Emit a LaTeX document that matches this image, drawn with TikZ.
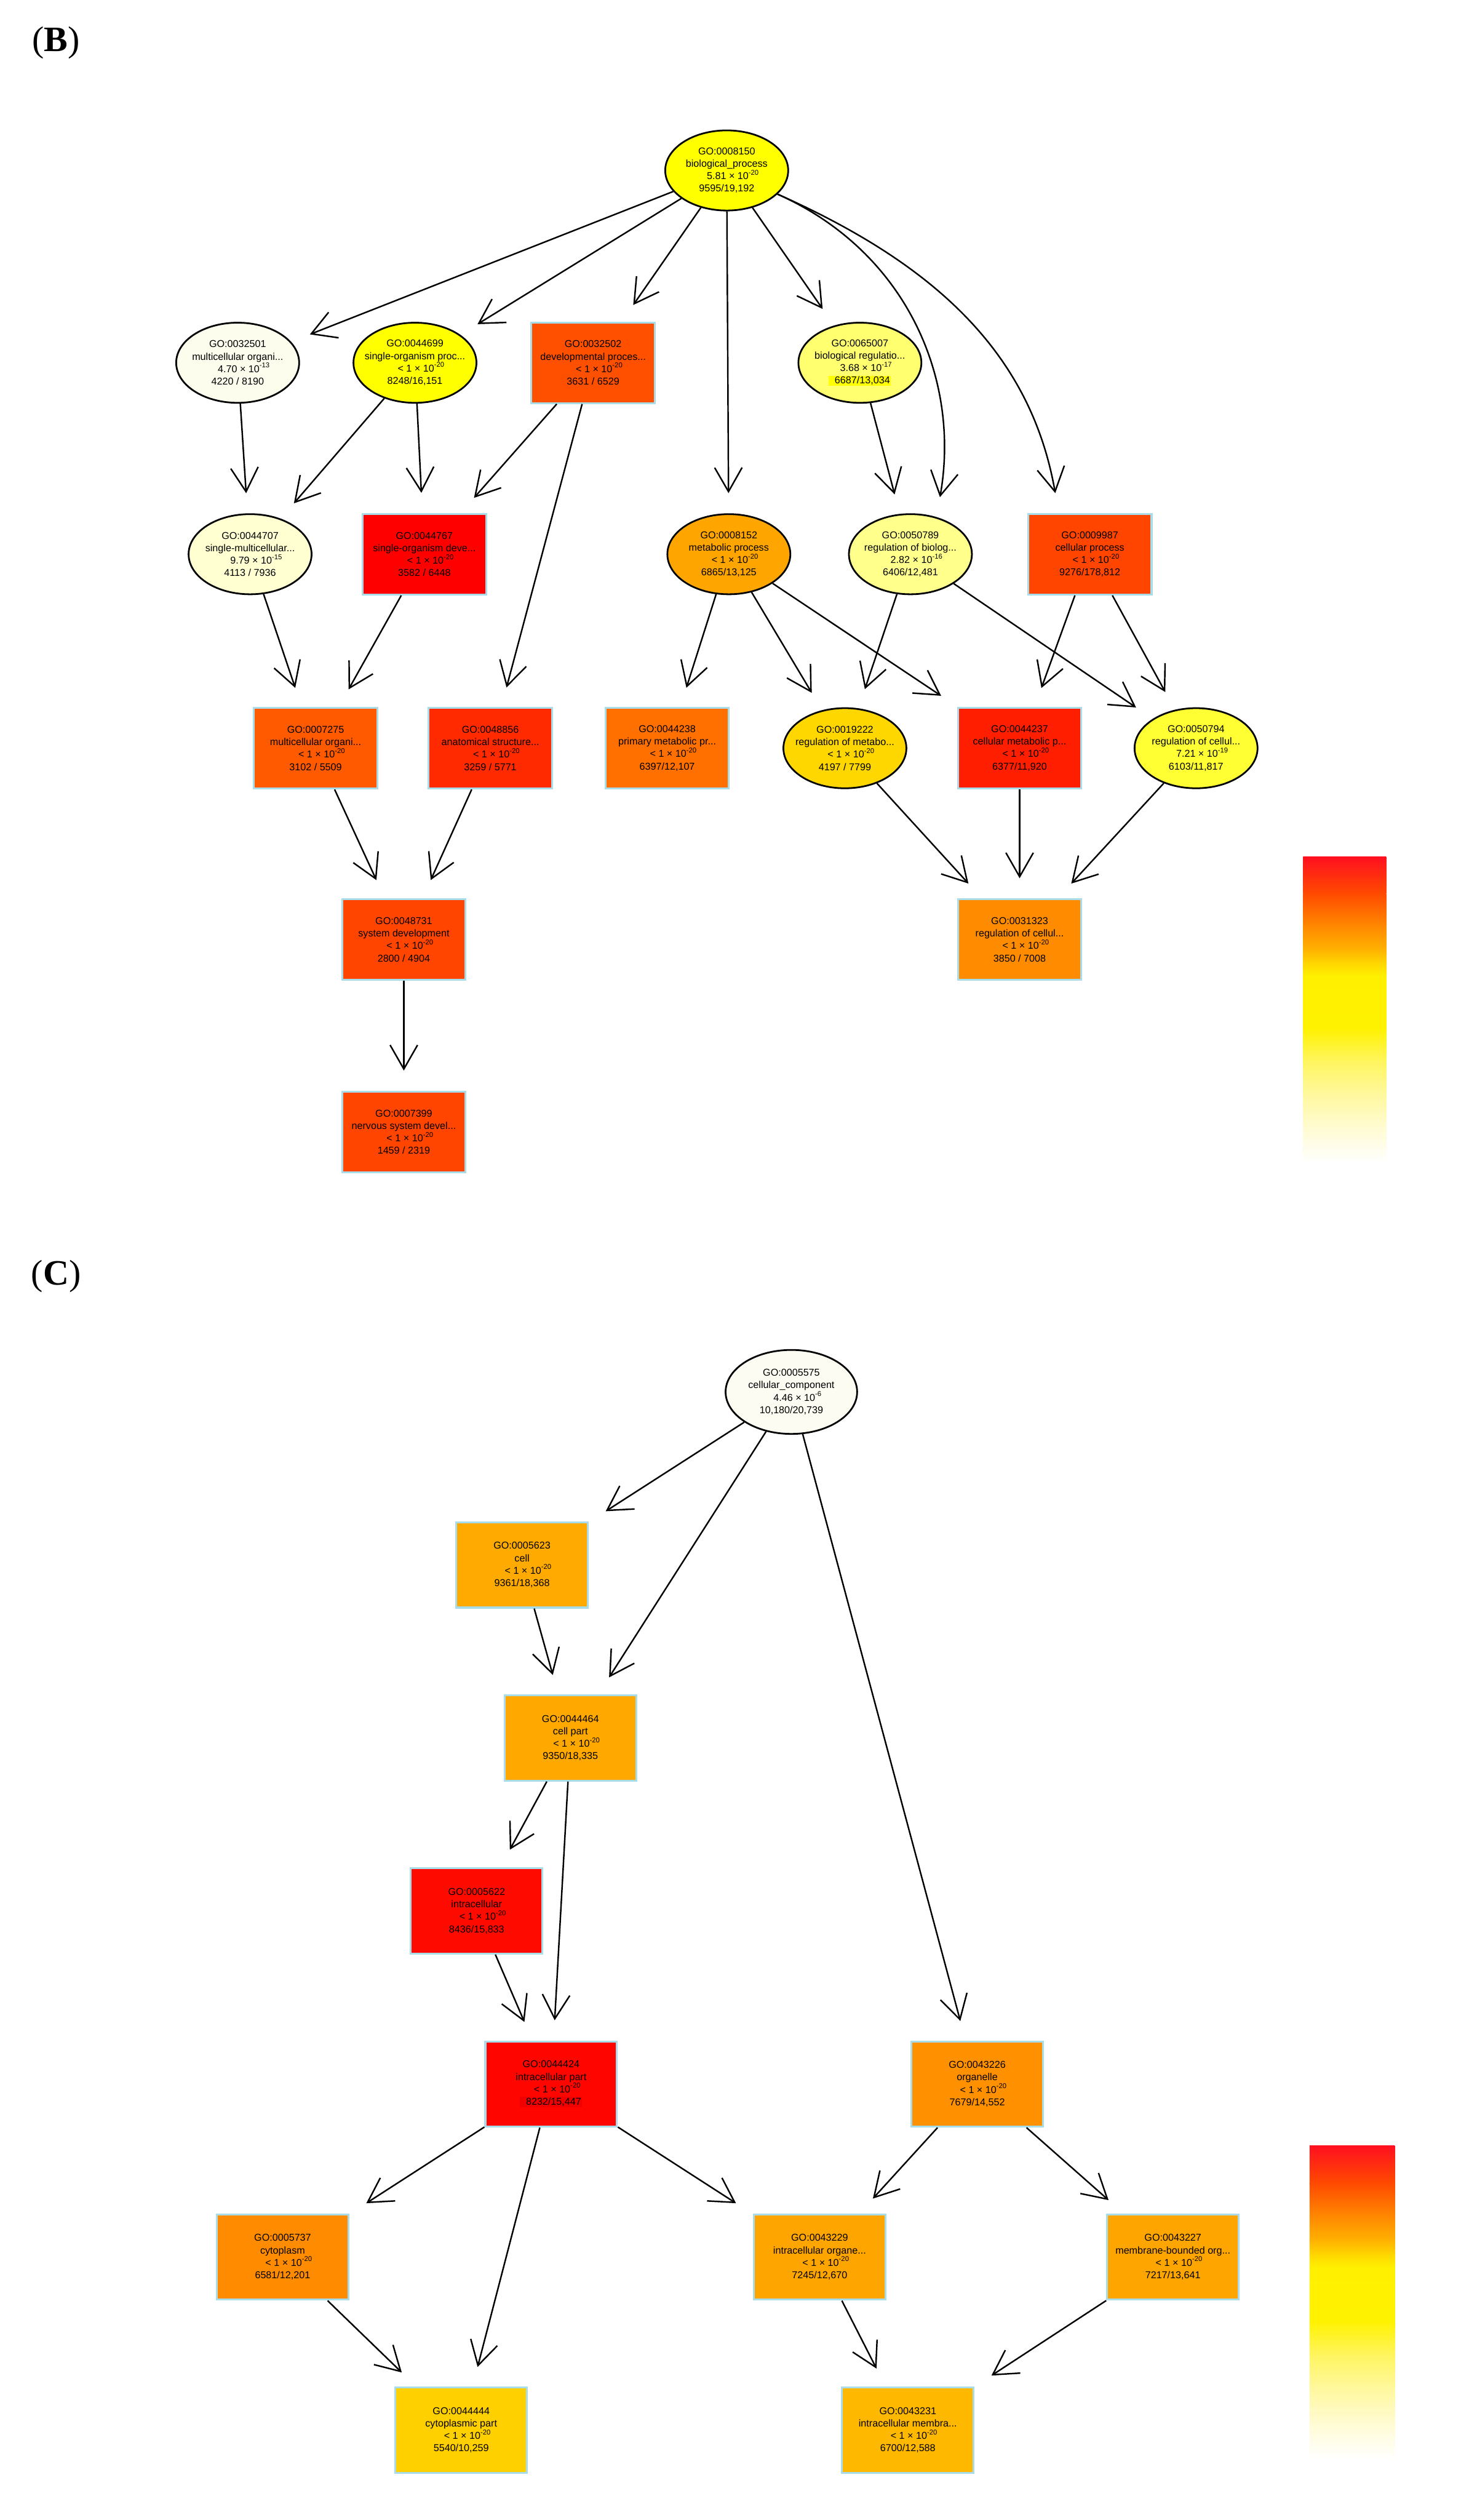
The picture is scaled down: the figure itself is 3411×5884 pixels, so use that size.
\documentclass[tikz,border=0pt]{standalone}
\usepackage{fontspec}
\setmainfont{Liberation Sans}
\newfontfamily\lblfont{Liberation Serif}
\usetikzlibrary{shapes.geometric,arrows.meta}

\definecolor{rectborder}{HTML}{A8DCE8}
\definecolor{cA}{HTML}{FFFF00}
\definecolor{cIvory}{HTML}{FDFDEE}
\definecolor{cIvoryC}{HTML}{FCFCF2}
\definecolor{c32502}{HTML}{FF5000}
\definecolor{c65007}{HTML}{FFFF70}
\definecolor{c44707}{HTML}{FFFFD2}
\definecolor{c44767}{HTML}{FF0000}
\definecolor{c8152}{HTML}{FFA500}
\definecolor{c50789}{HTML}{FFFF8C}
\definecolor{c9987}{HTML}{FF4500}
\definecolor{c7275}{HTML}{FF5A00}
\definecolor{c48856}{HTML}{FF2A00}
\definecolor{c44238}{HTML}{FF7000}
\definecolor{c19222}{HTML}{FFD700}
\definecolor{c44237}{HTML}{FF1E00}
\definecolor{c50794}{HTML}{FFFF33}
\definecolor{c48731}{HTML}{FF4500}
\definecolor{c31323}{HTML}{FF8C00}
\definecolor{c7399}{HTML}{FF4500}
\definecolor{c5623}{HTML}{FFAA00}
\definecolor{c44464}{HTML}{FFA800}
\definecolor{c5622}{HTML}{FF0A00}
\definecolor{c44424}{HTML}{FF0500}
\definecolor{c44424hl}{HTML}{F20000}
\definecolor{c43226}{HTML}{FF9000}
\definecolor{c5737}{HTML}{FF8C00}
\definecolor{c43229}{HTML}{FFA500}
\definecolor{c43227}{HTML}{FFA500}
\definecolor{c44444}{HTML}{FFD000}
\definecolor{c43231}{HTML}{FFB800}
% colour bar stops
\definecolor{g0}{HTML}{FF1020}
\definecolor{g1}{HTML}{FF4A00}
\definecolor{g2}{HTML}{FF8800}
\definecolor{g3}{HTML}{FFB000}
\definecolor{g4}{HTML}{FFD800}
\definecolor{g5}{HTML}{FFF000}
\definecolor{g6}{HTML}{FFF200}
\definecolor{g7}{HTML}{FFF560}
\definecolor{g8}{HTML}{FFF8A0}
\definecolor{g9}{HTML}{FFFBD0}
\definecolor{g10}{HTML}{FFFFFF}

\newcommand{\pv}[2]{\hspace*{0.3cm}#1 × 10\textsuperscript{#2}}
\newcommand{\gonode}[8]{\node[#1, fill=#4, label={[txt]center:{#5\\#6\\#7\\#8}}] (#2) at (#3) {};}
\newcommand{\hlbox}[2]{{\setlength{\fboxsep}{0.6pt}\colorbox{#1}{\hspace*{0.5em}#2}}}
\newcommand{\gradbar}[4]{%
  \foreach \fa/\fb/\ca/\cb in {0/0.12/g0/g1, 0.12/0.225/g1/g2, 0.225/0.30/g2/g3, 0.30/0.35/g3/g4, 0.35/0.39/g4/g5, 0.39/0.56/g5/g6, 0.56/0.67/g6/g7, 0.67/0.78/g7/g8, 0.78/0.88/g8/g9, 0.88/1/g9/g10}{%
    \shade[top color=\ca, bottom color=\cb] (#1,{#2+\fa*(#4-#2)-0.5}) rectangle (#3,{#2+\fb*(#4-#2)+0.5});
  }}

\begin{document}
\begin{tikzpicture}[x=0.01cm,y=-0.01cm,
  txt/.style={font=\fontsize{6.6pt}{8.25pt}\selectfont, align=center, inner sep=0pt, text=black},
  ellb/.style={ellipse, draw=black, line width=0.04cm, minimum width=2.87cm, minimum height=1.87cm, inner sep=0pt},
  rectb/.style={rectangle, draw=rectborder, line width=0.045cm, minimum width=2.88cm, minimum height=1.88cm, inner sep=0pt},
  ellc/.style={ellb, minimum width=3.07cm, minimum height=1.96cm},
  rectc/.style={rectb, minimum width=3.07cm, minimum height=1.99cm},
  arr/.style={line width=0.035cm, -{Straight Barb[length=0.56cm,width=0.64cm]}, shorten >=0.47cm},
  lbl/.style={font=\lblfont\fontsize{23.7pt}{28pt}\selectfont, inner sep=0pt}
]
\useasboundingbox (0,0) rectangle (3411,5884);
\fill[white] (0,0) rectangle (3411,5884);

% ---------------- Panel B ----------------
\node[lbl] (lblB) at (131,100) {(\textbf{B})};

\gonode{ellb}{n8150}{1697,398}{cA}{GO:0008150}{biological\_process}{\pv{5.81}{-20}}{9595/19,192}
\gonode{ellb}{n32501}{555,847}{cIvory}{GO:0032501}{multicellular organi...}{\pv{4.70}{-13}}{4220 / 8190}
\gonode{ellb}{n44699}{969,847}{cA}{GO:0044699}{single-organism proc...}{\pv{< 1}{-20}}{8248/16,151}
\gonode{rectb}{n32502}{1385,847}{c32502}{GO:0032502}{developmental proces...}{\pv{< 1}{-20}}{3631 / 6529}
\gonode{ellb}{n65007}{2008,847}{c65007}{GO:0065007}{biological regulatio...}{\pv{3.68}{-17}}{\hlbox{cA}{6687/13,034}}

\gonode{ellb}{n44707}{584,1294}{c44707}{GO:0044707}{single-multicellular...}{\pv{9.79}{-15}}{4113 / 7936}
\gonode{rectb}{n44767}{991,1294}{c44767}{GO:0044767}{single-organism deve...}{\pv{< 1}{-20}}{3582 / 6448}
\gonode{ellb}{n8152}{1702,1294}{c8152}{GO:0008152}{metabolic process}{\pv{< 1}{-20}}{6865/13,125}
\gonode{ellb}{n50789}{2126,1294}{c50789}{GO:0050789}{regulation of biolog...}{\pv{2.82}{-16}}{6406/12,481}
\gonode{rectb}{n9987}{2545,1294}{c9987}{GO:0009987}{cellular process}{\pv{< 1}{-20}}{9276/178,812}

\gonode{rectb}{n7275}{737,1747}{c7275}{GO:0007275}{multicellular organi...}{\pv{< 1}{-20}}{3102 / 5509}
\gonode{rectb}{n48856}{1145,1747}{c48856}{GO:0048856}{anatomical structure...}{\pv{< 1}{-20}}{3259 / 5771}
\gonode{rectb}{n44238}{1558,1747}{c44238}{GO:0044238}{primary metabolic pr...}{\pv{< 1}{-20}}{6397/12,107}
\gonode{ellb}{n19222}{1973,1747}{c19222}{GO:0019222}{regulation of metabo...}{\pv{< 1}{-20}}{4197 / 7799}
\gonode{rectb}{n44237}{2381,1747}{c44237}{GO:0044237}{cellular metabolic p...}{\pv{< 1}{-20}}{6377/11,920}
\gonode{ellb}{n50794}{2793,1747}{c50794}{GO:0050794}{regulation of cellul...}{\pv{7.21}{-19}}{6103/11,817}

\gonode{rectb}{n48731}{943,2194}{c48731}{GO:0048731}{system development}{\pv{< 1}{-20}}{2800 / 4904}
\gonode{rectb}{n31323}{2381,2194}{c31323}{GO:0031323}{regulation of cellul...}{\pv{< 1}{-20}}{3850 / 7008}
\gonode{rectb}{n7399}{943,2643}{c7399}{GO:0007399}{nervous system devel...}{\pv{< 1}{-20}}{1459 / 2319}

\draw[arr] (n8150) -- (n32501);
\draw[arr] (n8150) -- (n44699);
\draw[arr] (n8150) -- (n32502);
\draw[arr] (n8150) -- (n8152);
\draw[arr] (n8150) -- (n65007);
\draw[arr] (n8150.-25) to[out=-24,in=80] (n50789.55);
\draw[arr] (n8150.-25) to[out=-24,in=100] (n9987.127);
\draw[arr] (n32501) -- (n44707);
\draw[arr] (n44699) -- (n44707);
\draw[arr] (n44699) -- (n44767);
\draw[arr] (n32502) -- (n44767);
\draw[arr] (n32502) -- (n48856);
\draw[arr] (n65007) -- (n50789);
\draw[arr] (n44707) -- (n7275);
\draw[arr] (n44767) -- (n7275);
\draw[arr] (n8152) -- (n44238);
\draw[arr] (n8152) -- (n19222);
\draw[arr] (n8152) -- (n44237);
\draw[arr] (n50789) -- (n19222);
\draw[arr] (n50789) -- (n50794);
\draw[arr] (n9987) -- (n44237);
\draw[arr] (n9987) -- (n50794);
\draw[arr] (n7275) -- (n48731);
\draw[arr] (n48856) -- (n48731);
\draw[arr] (n19222) -- (n31323);
\draw[arr] (n44237) -- (n31323);
\draw[arr] (n50794) -- (n31323);
\draw[arr] (n48731) -- (n7399);

\gradbar{3043}{2001}{3237}{2715}

% ---------------- Panel C ----------------
\node[lbl] (lblC) at (131,2980) {(\textbf{C})};

\gonode{ellc}{n5575}{1848,3250}{cIvoryC}{GO:0005575}{cellular\_component}{\pv{4.46}{-6}}{10,180/20,739}
\gonode{rectc}{n5623}{1219,3654}{c5623}{GO:0005623}{cell}{\pv{< 1}{-20}}{9361/18,368}
\gonode{rectc}{n44464}{1332,4058}{c44464}{GO:0044464}{cell part}{\pv{< 1}{-20}}{9350/18,335}
\gonode{rectc}{n5622}{1113,4462}{c5622}{GO:0005622}{intracellular}{\pv{< 1}{-20}}{8436/15,833}
\gonode{rectc}{n44424}{1287,4866}{c44424}{GO:0044424}{intracellular part}{\pv{< 1}{-20}}{\hlbox{c44424hl}{8232/15,447}}
\gonode{rectc}{n43226}{2282,4866}{c43226}{GO:0043226}{organelle}{\pv{< 1}{-20}}{7679/14,552}
\gonode{rectc}{n5737}{660,5270}{c5737}{GO:0005737}{cytoplasm}{\pv{< 1}{-20}}{6581/12,201}
\gonode{rectc}{n43229}{1914,5270}{c43229}{GO:0043229}{intracellular organe...}{\pv{< 1}{-20}}{7245/12,670}
\gonode{rectc}{n43227}{2739,5270}{c43227}{GO:0043227}{membrane-bounded org...}{\pv{< 1}{-20}}{7217/13,641}
\gonode{rectc}{n44444}{1077,5674}{c44444}{GO:0044444}{cytoplasmic part}{\pv{< 1}{-20}}{5540/10,259}
\gonode{rectc}{n43231}{2120,5674}{c43231}{GO:0043231}{intracellular membra...}{\pv{< 1}{-20}}{6700/12,588}

\draw[arr] (n5575) -- (n5623);
\draw[arr] (n5575) -- (n44464);
\draw[arr] (n5575) -- (n43226);
\draw[arr] (n5623) -- (n44464);
\draw[arr] (n44464) -- (n5622);
\draw[arr] (n44464) -- (n44424);
\draw[arr] (n5622) -- (n44424);
\draw[arr] (n44424) -- (n5737);
\draw[arr] (n44424) -- (n44444);
\draw[arr] (n44424) -- (n43229);
\draw[arr] (n43226) -- (n43229);
\draw[arr] (n43226) -- (n43227);
\draw[arr] (n5737) -- (n44444);
\draw[arr] (n43229) -- (n43231);
\draw[arr] (n43227) -- (n43231);

\gradbar{3058}{5010}{3257}{5741}
\end{tikzpicture}
\end{document}
